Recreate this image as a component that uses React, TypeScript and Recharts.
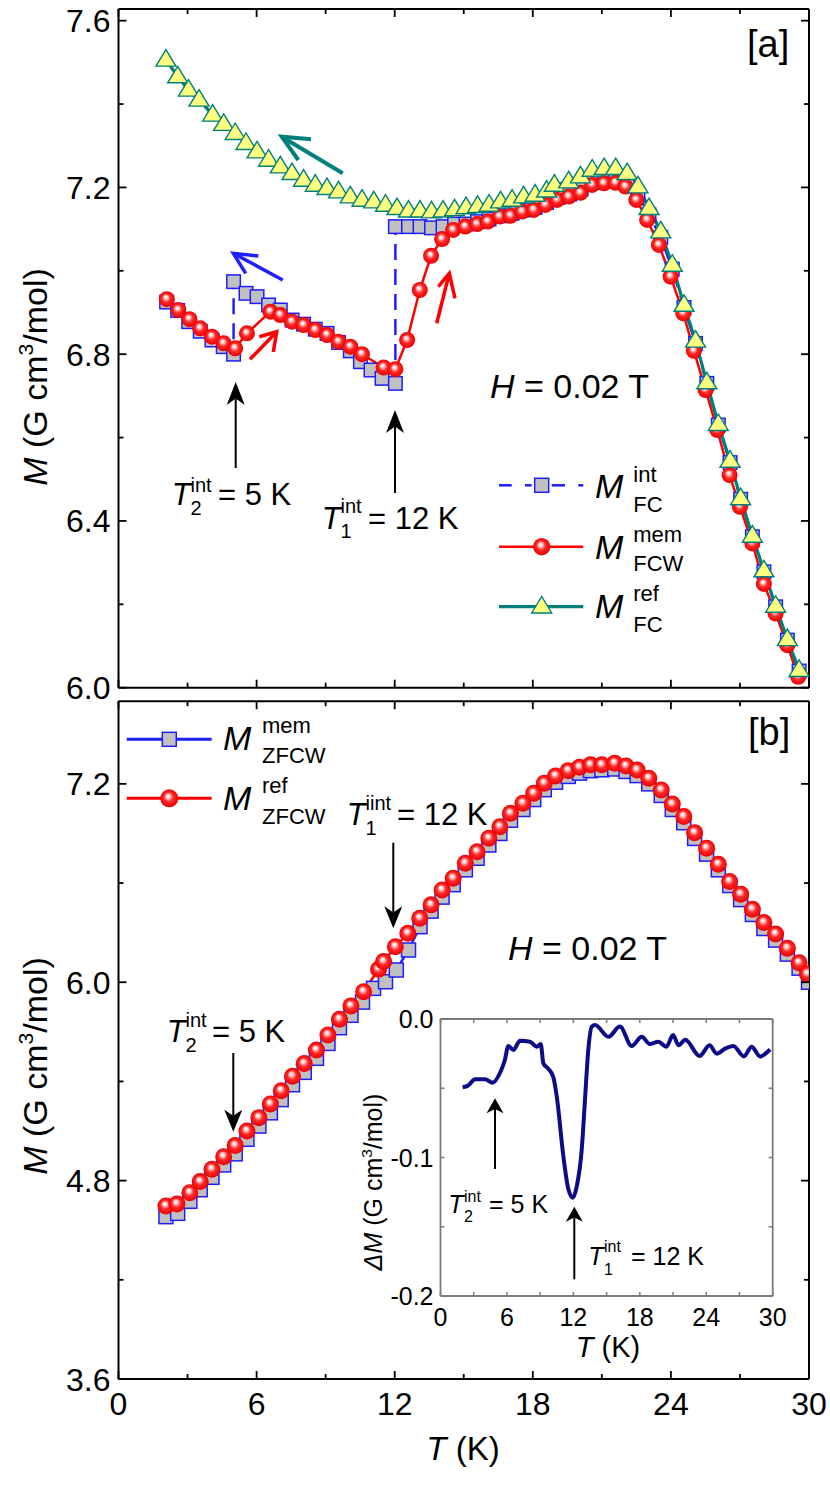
import React from 'react';
import { LineChart, Line, XAxis, YAxis } from 'recharts';

const FONT = "'Liberation Sans', Arial, Helvetica, sans-serif";

// ---------------- Panel (a) ----------------
const aRefT = [2.06, 2.57, 3.04, 3.5, 4.09, 4.57, 5.07, 5.54, 6.02, 6.52, 7.03, 7.54, 8.04, 8.55, 9.06, 9.56, 10.07, 10.58, 11.09, 11.6, 12.1, 12.6, 13.1, 13.6, 14.1, 14.6, 15.1, 15.6, 16.1, 16.6, 17.1, 17.6, 18.1, 18.6, 18.94, 19.56, 20.07, 20.58, 21.1, 21.6, 22.1, 22.57, 23.05, 23.56, 24.06, 24.57, 25.07, 25.56, 26.06, 26.57, 27.03, 27.54, 28.04, 28.55, 29.06, 29.57];
const aRefM = [7.506, 7.466, 7.434, 7.41, 7.374, 7.352, 7.33, 7.306, 7.286, 7.266, 7.25, 7.234, 7.218, 7.206, 7.198, 7.19, 7.178, 7.17, 7.166, 7.158, 7.15, 7.144, 7.144, 7.142, 7.144, 7.147, 7.152, 7.155, 7.158, 7.166, 7.17, 7.178, 7.182, 7.192, 7.206, 7.214, 7.226, 7.242, 7.246, 7.246, 7.234, 7.202, 7.15, 7.094, 7.014, 6.918, 6.832, 6.732, 6.632, 6.544, 6.454, 6.364, 6.281, 6.196, 6.116, 6.042];

const aMemT = [2.1, 2.6, 3.08, 3.55, 4.06, 4.57, 5.07, 5.58, 6.6, 7.03, 7.54, 8.04, 8.55, 9.06, 9.56, 10.07, 10.58, 11.52, 12.03, 12.54, 13.09, 13.58, 14.06, 14.54, 15.07, 15.58, 16.04, 16.56, 17.03, 17.54, 18.04, 18.55, 19.06, 19.56, 20.07, 20.58, 21.09, 21.6, 22.03, 22.5, 22.97, 23.48, 23.99, 24.54, 25.0, 25.51, 26.02, 26.55, 27.0, 27.54, 28.04, 28.55, 29.06, 29.53];
const aMemM = [6.932, 6.906, 6.884, 6.862, 6.842, 6.826, 6.814, 6.85, 6.902, 6.894, 6.878, 6.87, 6.858, 6.846, 6.83, 6.818, 6.8, 6.768, 6.764, 6.834, 6.954, 7.036, 7.076, 7.098, 7.106, 7.112, 7.118, 7.13, 7.132, 7.142, 7.146, 7.158, 7.17, 7.178, 7.187, 7.206, 7.21, 7.211, 7.202, 7.17, 7.122, 7.062, 6.986, 6.898, 6.808, 6.714, 6.618, 6.51, 6.434, 6.346, 6.249, 6.178, 6.102, 6.026];

const aIntT = [2.09, 2.57, 3.05, 3.55, 4.06, 4.55, 5.0, 5.0, 5.54, 6.02, 6.52, 7.03, 7.54, 8.04, 8.55, 9.06, 9.56, 10.07, 10.51, 10.97, 11.45, 12.03, 12.03, 12.6, 13.1, 13.6, 14.1, 14.6, 15.1, 15.6, 16.1, 16.6, 17.1, 17.6, 18.1, 18.6, 19.1, 19.6, 20.1, 20.6, 21.1, 21.6, 22.1, 22.57, 23.05, 23.56, 24.06, 24.57, 25.07, 25.56, 26.06, 26.57, 27.03, 27.54, 28.04, 28.55, 29.06, 29.57];
const aIntM = [6.925, 6.905, 6.878, 6.855, 6.834, 6.818, 6.8, 6.974, 6.946, 6.938, 6.918, 6.906, 6.882, 6.872, 6.86, 6.85, 6.828, 6.808, 6.782, 6.762, 6.742, 6.73, 7.106, 7.106, 7.106, 7.103, 7.106, 7.112, 7.112, 7.118, 7.124, 7.132, 7.138, 7.146, 7.152, 7.164, 7.176, 7.184, 7.196, 7.212, 7.218, 7.22, 7.212, 7.182, 7.134, 7.08, 7.004, 6.912, 6.826, 6.73, 6.63, 6.54, 6.452, 6.362, 6.278, 6.194, 6.114, 6.04];

// ---------------- Panel (b) ----------------
const bRefT = [2.06, 2.54, 3.1, 3.55, 4.06, 4.57, 5.07, 5.58, 6.1, 6.6, 7.07, 7.56, 8.07, 8.6, 9.1, 9.6, 10.1, 10.65, 11.3, 11.52, 12.03, 12.57, 13.09, 13.58, 14.06, 14.54, 15.07, 15.58, 16.09, 16.57, 17.03, 17.57, 18.04, 18.5, 18.99, 19.54, 20.03, 20.51, 21.0, 21.56, 22.05, 22.53, 23.04, 23.58, 24.06, 24.56, 25.03, 25.55, 26.06, 26.55, 27.03, 27.54, 28.04, 28.55, 29.06, 29.57, 29.93];
const bRefM = [4.647, 4.659, 4.727, 4.794, 4.869, 4.945, 5.012, 5.1, 5.181, 5.264, 5.344, 5.432, 5.508, 5.59, 5.681, 5.776, 5.857, 5.943, 6.079, 6.125, 6.215, 6.296, 6.387, 6.468, 6.558, 6.629, 6.72, 6.79, 6.871, 6.941, 7.022, 7.083, 7.143, 7.204, 7.248, 7.28, 7.3, 7.315, 7.315, 7.325, 7.308, 7.284, 7.234, 7.163, 7.078, 7.002, 6.905, 6.811, 6.714, 6.61, 6.533, 6.442, 6.361, 6.292, 6.206, 6.118, 6.05];

const bMemT = [2.06, 2.57, 3.1, 3.55, 4.06, 4.57, 5.07, 5.58, 6.1, 6.6, 7.07, 7.56, 8.07, 8.6, 9.1, 9.6, 10.1, 10.6, 11.08, 11.6, 12.07, 12.6, 13.1, 13.58, 14.06, 14.54, 15.07, 15.58, 16.09, 16.57, 17.03, 17.57, 18.04, 18.5, 18.99, 19.54, 20.03, 20.51, 21.0, 21.56, 22.05, 22.53, 23.04, 23.58, 24.06, 24.56, 25.03, 25.55, 26.06, 26.56, 27.03, 27.54, 28.04, 28.55, 29.06, 29.57, 29.98];
const bMemM = [4.582, 4.602, 4.675, 4.745, 4.82, 4.895, 4.962, 5.05, 5.13, 5.21, 5.29, 5.38, 5.455, 5.54, 5.63, 5.725, 5.8, 5.88, 5.963, 6.003, 6.074, 6.195, 6.336, 6.43, 6.515, 6.59, 6.68, 6.75, 6.83, 6.9, 6.98, 7.045, 7.105, 7.165, 7.21, 7.245, 7.265, 7.28, 7.285, 7.29, 7.275, 7.25, 7.2, 7.13, 7.045, 6.965, 6.87, 6.775, 6.68, 6.585, 6.5, 6.41, 6.325, 6.255, 6.17, 6.085, 6.0];

// ---------------- Inset (ΔM) ----------------
const dT = [2.0, 2.5, 3.12, 4.02, 4.71, 5.37, 5.8, 6.13, 6.58, 7.18, 8.08, 8.69, 9.05, 9.29, 9.74, 10.19, 10.5, 11.1, 11.55, 11.94, 12.3, 12.75, 13.05, 13.35, 13.66, 13.96, 15.16, 16.2, 17.27, 18.17, 18.9, 19.67, 20.4, 21.0, 21.5, 22.1, 23.4, 24.3, 24.95, 25.7, 26.45, 27.4, 28.1, 28.86, 29.76];
const dM = [-0.0493, -0.048, -0.0435, -0.0435, -0.046, -0.039, -0.03, -0.0195, -0.0224, -0.0157, -0.0164, -0.02, -0.018, -0.032, -0.036, -0.042, -0.056, -0.0994, -0.123, -0.129, -0.121, -0.0946, -0.058, -0.022, -0.0055, -0.0043, -0.0128, -0.0055, -0.0195, -0.0128, -0.018, -0.0164, -0.02, -0.0116, -0.019, -0.015, -0.0267, -0.019, -0.025, -0.0214, -0.0195, -0.027, -0.02, -0.027, -0.022];

// ---------------- Ticks ----------------
const xTicks = [0, 3, 6, 9, 12, 15, 18, 21, 24, 27, 30];
const xMajor = [0, 6, 12, 18, 24, 30];
const aYTicks = [6.0, 6.2, 6.4, 6.6, 6.8, 7.0, 7.2, 7.4, 7.6];
const aYMajor = [6.0, 6.4, 6.8, 7.2, 7.6];
const bYTicks = [3.6, 4.2, 4.8, 5.4, 6.0, 6.6, 7.2];
const bYMajor = [3.6, 4.8, 6.0, 7.2];
const iYTicks = [-0.2, -0.15, -0.1, -0.05, 0];
const iYMajor = [-0.2, -0.1, 0];

const zip = (t: number[], m: number[]) => t.map((T, i) => ({ T, M: m[i] }));
const aRef = zip(aRefT, aRefM);
const aMem = zip(aMemT, aMemM);
const aInt = zip(aIntT, aIntM);
const bRef = zip(bRefT, bRefM);
const bMem = zip(bMemT, bMemM);
const dData = zip(dT, dM);

type TickCfg = {
  side: 'left' | 'right' | 'top' | 'bottom';
  majors: number[];
  major: number;
  minor: number;
  stroke: string;
  sw: number;
  label?: (v: number) => string;
  fs?: number;
  gap?: number;
};

const mkTick = (c: TickCfg) => (p: any) => {
  const x = Number(p.x);
  const y = Number(p.y);
  const v = Number(p.payload ? p.payload.value : 0);
  const isMajor = c.majors.some((m) => Math.abs(m - v) < 1e-6);
  const len = isMajor ? c.major : c.minor;
  const dx = c.side === 'left' ? len : c.side === 'right' ? -len : 0;
  const dy = c.side === 'bottom' ? -len : c.side === 'top' ? len : 0;
  let lab: any = null;
  if (c.label && isMajor) {
    const fs = c.fs || 30;
    if (c.side === 'left') {
      lab = (
        <text x={x - (c.gap || 8)} y={y + fs * 0.36} textAnchor="end" fontSize={fs} fontFamily={FONT} fill="#000">
          {c.label(v)}
        </text>
      );
    } else if (c.side === 'bottom') {
      lab = (
        <text x={x} y={y + (c.gap || 30)} textAnchor="middle" fontSize={fs} fontFamily={FONT} fill="#000">
          {c.label(v)}
        </text>
      );
    }
  }
  return (
    <g key={`tk-${c.side}-${p.index}`}>
      <line x1={x} y1={y} x2={x + dx} y2={y + dy} stroke={c.stroke} strokeWidth={c.sw} />
      {lab}
    </g>
  );
};

const ball = (r: number) => (p: any) =>
  p.cx == null || p.cy == null ? (
    <g key={`b${p.index}`} />
  ) : (
    <circle key={`b${p.index}`} cx={p.cx} cy={p.cy} r={r} fill="url(#redBall)" />
  );

const square = (s: number) => (p: any) =>
  p.cx == null || p.cy == null ? (
    <g key={`s${p.index}`} />
  ) : (
    <rect key={`s${p.index}`} x={p.cx - s / 2} y={p.cy - s / 2} width={s} height={s} fill="#c0c0c0" stroke="#1e1eff" strokeWidth={1.5} />
  );

const tri = (w: number, h: number) => (p: any) =>
  p.cx == null || p.cy == null ? (
    <g key={`t${p.index}`} />
  ) : (
    <polygon
      key={`t${p.index}`}
      points={`${p.cx},${p.cy - h * 0.62} ${p.cx - w / 2},${p.cy + h * 0.38} ${p.cx + w / 2},${p.cy + h * 0.38}`}
      fill="#ffff80"
      stroke="#00807d"
      strokeWidth={1.4}
    />
  );

const AX = { stroke: '#000', strokeWidth: 2 };
const GX = { stroke: '#7a7a7a', strokeWidth: 1.8 };

function frameAxes(yDomain: number[], yTicks: number[], yMajor: number[], yWidth: number, showX: boolean, yFmt: (v: number) => string) {
  return [
    <XAxis
      key="xb"
      dataKey="T"
      type="number"
      domain={[0, 30]}
      ticks={xTicks}
      interval={0}
      allowDataOverflow
      height={1}
      tickSize={0}
      tickMargin={0}
      tickLine={false}
      axisLine={AX}
      tick={mkTick({ side: 'bottom', majors: xMajor, major: 8, minor: 5, stroke: '#000', sw: 1.8, label: showX ? (v) => String(v) : undefined, fs: 32, gap: 36 })}
    />,
    <XAxis
      key="xt"
      xAxisId="top"
      orientation="top"
      dataKey="T"
      type="number"
      domain={[0, 30]}
      ticks={xTicks}
      interval={0}
      allowDataOverflow
      height={1}
      tickSize={0}
      tickMargin={0}
      tickLine={false}
      axisLine={AX}
      tick={mkTick({ side: 'top', majors: xMajor, major: 8, minor: 5, stroke: '#000', sw: 1.8 })}
    />,
    <YAxis
      key="yl"
      type="number"
      domain={yDomain}
      ticks={yTicks}
      interval={0}
      allowDataOverflow
      width={yWidth}
      tickSize={0}
      tickMargin={0}
      tickLine={false}
      axisLine={AX}
      tick={mkTick({ side: 'left', majors: yMajor, major: 8, minor: 5, stroke: '#000', sw: 1.8, label: yFmt, fs: 32, gap: 8 })}
    />,
    <YAxis
      key="yr"
      yAxisId="right"
      orientation="right"
      type="number"
      domain={yDomain}
      ticks={yTicks}
      interval={0}
      allowDataOverflow
      width={1}
      tickSize={0}
      tickMargin={0}
      tickLine={false}
      axisLine={AX}
      tick={mkTick({ side: 'right', majors: yMajor, major: 8, minor: 5, stroke: '#000', sw: 1.8 })}
    />,
    <Line
      key="dummy"
      xAxisId="top"
      yAxisId="right"
      data={[
        { T: 0, M: yDomain[0] },
        { T: 30, M: yDomain[1] },
      ]}
      dataKey="M"
      stroke="none"
      dot={false}
      activeDot={false}
      isAnimationActive={false}
    />,
  ];
}

function TLab(props: { x: number; y: number; fs: number; sfs: number; sup: string; sub: string; sx: number; supY: number; subY: number; rest: string; rx: number }) {
  const { x, y, fs, sfs, sup, sub, sx, supY, subY, rest, rx } = props;
  return (
    <g fontFamily={FONT} fill="#000">
      <text x={x} y={y} fontSize={fs} fontStyle="italic">T</text>
      <text x={sx} y={supY} fontSize={sfs}>{sup}</text>
      <text x={sx} y={subY} fontSize={sfs}>{sub}</text>
      <text x={rx} y={y} fontSize={fs}>{rest}</text>
    </g>
  );
}

function Arrow(props: { x1: number; y1: number; x2: number; y2: number; hw: number; hl: number; sw: number }) {
  const { x1, y1, x2, y2, hw, hl, sw } = props;
  const dx = x2 - x1;
  const dy = y2 - y1;
  const L = Math.hypot(dx, dy);
  const ux = dx / L;
  const uy = dy / L;
  const px = -uy;
  const py = ux;
  const bx = x2 - ux * hl;
  const by = y2 - uy * hl;
  const nx = x2 - ux * hl * 0.72;
  const ny = y2 - uy * hl * 0.72;
  return (
    <g>
      <line x1={x1} y1={y1} x2={nx} y2={ny} stroke="#000" strokeWidth={sw} />
      <polygon points={`${x2},${y2} ${bx + px * hw},${by + py * hw} ${nx},${ny} ${bx - px * hw},${by - py * hw}`} fill="#000" />
    </g>
  );
}

function OpenArrow(props: { tail: number[]; tip: number[]; w1: number[]; w2: number[]; color: string; sw: number }) {
  const { tail, tip, w1, w2, color, sw } = props;
  return (
    <g stroke={color} strokeWidth={sw} fill="none" strokeLinejoin="miter">
      <line x1={tail[0]} y1={tail[1]} x2={tip[0]} y2={tip[1]} />
      <polyline points={`${w1[0]},${w1[1]} ${tip[0]},${tip[1]} ${w2[0]},${w2[1]}`} />
    </g>
  );
}

function LegendM(props: { x: number; y: number; sx: number; sup: string; supY: number; sub: string; subY: number }) {
  const { x, y, sx, sup, supY, sub, subY } = props;
  return (
    <g fontFamily={FONT} fill="#000">
      <text x={x} y={y} fontSize={34} fontStyle="italic">M</text>
      <text x={sx} y={supY} fontSize={22}>{sup}</text>
      <text x={sx} y={subY} fontSize={22}>{sub}</text>
    </g>
  );
}

function YTitle(props: { x: number; y: number; fs: number; delta?: boolean }) {
  const { x, y, fs, delta } = props;
  return (
    <text transform={`translate(${x},${y}) rotate(-90)`} textAnchor="middle" fontSize={fs} fontFamily={FONT} fill="#000">
      <tspan fontStyle="italic">{delta ? 'ΔM' : 'M'}</tspan>
      <tspan> (G cm</tspan>
      <tspan fontSize={fs * 0.62} dy={-fs * 0.42}>3</tspan>
      <tspan dy={fs * 0.42}>/mol)</tspan>
    </text>
  );
}

export default function App() {
  return (
    <div style={{ position: 'absolute', left: 0, top: 0, width: 830, height: 1495, background: '#fff', fontFamily: FONT }}>
      {/* Panel (a) */}
      <div style={{ position: 'absolute', left: 0, top: 0 }}>
        <LineChart width={830} height={712} margin={{ top: 8, right: 20, bottom: 23.3, left: 0 }}>
          {frameAxes([6.0, 7.628], aYTicks, aYMajor, 118.5, false, (v) => v.toFixed(1))}
          <Line data={aInt} dataKey="M" type="linear" stroke="#1e1eff" strokeWidth={2.5} strokeDasharray="16 9" dot={square(13.5)} activeDot={false} isAnimationActive={false} />
          <Line data={aMem} dataKey="M" type="linear" stroke="#ff0000" strokeWidth={2.5} dot={ball(8)} activeDot={false} isAnimationActive={false} />
          <Line data={aRef} dataKey="M" type="linear" stroke="#00807d" strokeWidth={3.2} dot={tri(20, 16.5)} activeDot={false} isAnimationActive={false} />
        </LineChart>
      </div>

      {/* Panel (b) */}
      <div style={{ position: 'absolute', left: 0, top: 690 }}>
        <LineChart width={830} height={805} margin={{ top: 10.2, right: 20, bottom: 115, left: 0 }}>
          {frameAxes([3.6, 7.7], bYTicks, bYMajor, 118.5, true, (v) => v.toFixed(1))}
          <Line data={bMem} dataKey="M" type="linear" stroke="#1e1eff" strokeWidth={2.5} dot={square(14)} activeDot={false} isAnimationActive={false} />
          <Line data={bRef} dataKey="M" type="linear" stroke="#ff0000" strokeWidth={2.5} dot={ball(8.5)} activeDot={false} isAnimationActive={false} />
        </LineChart>
      </div>

      {/* Inset */}
      <div style={{ position: 'absolute', left: 340, top: 990 }}>
        <LineChart width={460} height={400} margin={{ top: 28, right: 26.3, bottom: 93, left: 0 }}>
          <XAxis
            dataKey="T"
            type="number"
            domain={[0, 30]}
            ticks={xTicks}
            interval={0}
            allowDataOverflow
            height={1}
            tickSize={0}
            tickMargin={0}
            tickLine={false}
            axisLine={GX}
            tick={mkTick({ side: 'bottom', majors: xTicks, major: 4, minor: 4, stroke: '#7a7a7a', sw: 1.5, label: (v) => (xMajor.includes(v) ? String(v) : ''), fs: 25, gap: 30 })}
          />
          <XAxis
            xAxisId="top"
            orientation="top"
            dataKey="T"
            type="number"
            domain={[0, 30]}
            ticks={xTicks}
            interval={0}
            allowDataOverflow
            height={1}
            tickSize={0}
            tickMargin={0}
            tickLine={false}
            axisLine={GX}
            tick={mkTick({ side: 'top', majors: xTicks, major: 4, minor: 4, stroke: '#7a7a7a', sw: 1.5 })}
          />
          <YAxis
            type="number"
            domain={[-0.2, 0]}
            ticks={iYTicks}
            interval={0}
            allowDataOverflow
            width={100.5}
            tickSize={0}
            tickMargin={0}
            tickLine={false}
            axisLine={GX}
            tick={mkTick({ side: 'left', majors: iYTicks, major: 4, minor: 4, stroke: '#7a7a7a', sw: 1.5, label: (v) => (iYMajor.some((m) => Math.abs(m - v) < 1e-6) ? (Math.abs(v) < 1e-9 ? '0.0' : v.toFixed(1)) : ''), fs: 25, gap: 7 })}
          />
          <YAxis
            yAxisId="right"
            orientation="right"
            type="number"
            domain={[-0.2, 0]}
            ticks={iYTicks}
            interval={0}
            allowDataOverflow
            width={1}
            tickSize={0}
            tickMargin={0}
            tickLine={false}
            axisLine={GX}
            tick={mkTick({ side: 'right', majors: iYTicks, major: 4, minor: 4, stroke: '#7a7a7a', sw: 1.5 })}
          />
          <Line xAxisId="top" yAxisId="right" data={[{ T: 0, M: -0.2 }, { T: 30, M: 0 }]} dataKey="M" stroke="none" dot={false} activeDot={false} isAnimationActive={false} />
          <Line data={dData} dataKey="M" type="monotone" stroke="#0c0c88" strokeWidth={4} dot={false} activeDot={false} isAnimationActive={false} />
        </LineChart>
      </div>

      {/* Overlay annotations */}
      <svg width={830} height={1495} style={{ position: 'absolute', left: 0, top: 0, pointerEvents: 'none' }}>
        <defs>
          <radialGradient id="redBall" cx="0.5" cy="0.5" r="0.5" fx="0.42" fy="0.36">
            <stop offset="0" stopColor="#ffffff" />
            <stop offset="0.2" stopColor="#ffd8d8" />
            <stop offset="0.52" stopColor="#ff2a2a" />
            <stop offset="1" stopColor="#ea0000" />
          </radialGradient>
        </defs>

        {/* axis titles */}
        <YTitle x={47} y={377} fs={34} />
        <YTitle x={47} y={1066} fs={34} />
        <YTitle x={382} y={1182} fs={25} delta />
        <text x={463} y={1460} textAnchor="middle" fontSize={33} fontFamily={FONT} fill="#000">
          <tspan fontStyle="italic">T</tspan> (K)
        </text>
        <text x={608} y={1357} textAnchor="middle" fontSize={29} fontFamily={FONT} fill="#000">
          <tspan fontStyle="italic">T</tspan> (K)
        </text>

        {/* panel labels */}
        <text x={747} y={57} fontSize={38} fontFamily={FONT} fill="#000">[a]</text>
        <text x={748} y={745} fontSize={38} fontFamily={FONT} fill="#000">[b]</text>

        {/* field labels */}
        <text x={490} y={398} fontSize={34} fontFamily={FONT} fill="#000">
          <tspan fontStyle="italic">H</tspan> = 0.02 T
        </text>
        <text x={508} y={960} fontSize={34} fontFamily={FONT} fill="#000">
          <tspan fontStyle="italic">H</tspan> = 0.02 T
        </text>

        {/* panel (a) annotations */}
        <Arrow x1={235.7} y1={468} x2={235.7} y2={382} hw={9} hl={23} sw={2} />
        <Arrow x1={395} y1={493} x2={395} y2={410} hw={9} hl={23} sw={2} />
        <TLab x={171.7} y={505} fs={31} sfs={20} sup="int" sub="2" sx={190.5} supY={491.7} subY={515} rest="= 5 K" rx={218} />
        <TLab x={321.7} y={529} fs={31} sfs={20} sup="int" sub="1" sx={340.5} supY={513} subY={538} rest="= 12 K" rx={368} />

        <OpenArrow tail={[342.7, 173.3]} tip={[281.7, 136.7]} w1={[311, 139.3]} w2={[298.3, 160]} color="#00807d" sw={4} />
        <OpenArrow tail={[282.7, 280]} tip={[233.3, 253.3]} w1={[258.3, 256]} w2={[245.7, 273.3]} color="#1e1eff" sw={3.5} />
        <OpenArrow tail={[250, 359.3]} tip={[276.7, 331.7]} w1={[259.3, 336.7]} w2={[273.3, 352]} color="#ff0000" sw={3.5} />
        <OpenArrow tail={[436.7, 323.3]} tip={[449.3, 273.3]} w1={[438.3, 286.7]} w2={[455, 298.3]} color="#ff0000" sw={3.5} />

        {/* legend (a) */}
        <g stroke="#1e1eff" strokeWidth={2.5}>
          <line x1={499} y1={485.3} x2={511.7} y2={485.3} />
          <line x1={525} y1={485.3} x2={531.7} y2={485.3} />
          <line x1={551.7} y1={485.3} x2={565} y2={485.3} />
          <line x1={578.3} y1={485.3} x2={583.3} y2={485.3} />
        </g>
        <rect x={541.7 - 7} y={485.3 - 7} width={14} height={14} fill="#c0c0c0" stroke="#1e1eff" strokeWidth={1.5} />
        <LegendM x={595} y={498} sx={633.3} sup="int" supY={481.7} sub="FC" subY={511.7} />

        <line x1={499} y1={546.7} x2={583.3} y2={546.7} stroke="#ff0000" strokeWidth={2.5} />
        <circle cx={541.7} cy={546.7} r={8.7} fill="url(#redBall)" />
        <LegendM x={595} y={559.3} sx={633.3} sup="mem" supY={541.7} sub="FCW" subY={570.7} />

        <line x1={499} y1={606.7} x2={583.3} y2={606.7} stroke="#00807d" strokeWidth={3.2} />
        <polygon points={`541.7,${606.7 - 10.2} ${541.7 - 10},${606.7 + 6.3} ${541.7 + 10},${606.7 + 6.3}`} fill="#ffff80" stroke="#00807d" strokeWidth={1.4} />
        <LegendM x={595} y={618.3} sx={633.3} sup="ref" supY={600.7} sub="FC" subY={631.7} />

        {/* panel (b) annotations */}
        <Arrow x1={393.3} y1={842.7} x2={393.3} y2={928.3} hw={9} hl={22} sw={2} />
        <Arrow x1={233.3} y1={1053} x2={233.3} y2={1131.7} hw={9} hl={22} sw={2} />
        <TLab x={346.7} y={825} fs={31} sfs={20} sup="iint" sub="1" sx={365.5} supY={810} subY={835} rest="= 12 K" rx={397} />
        <TLab x={166.7} y={1041.7} fs={31} sfs={20} sup="int" sub="2" sx={185.5} supY={1026.7} subY={1051.7} rest="= 5 K" rx={212} />

        {/* legend (b) */}
        <line x1={126.7} y1={739.3} x2={211.7} y2={739.3} stroke="#1e1eff" strokeWidth={3} />
        <rect x={169.3 - 7} y={739.3 - 7} width={14} height={14} fill="#c0c0c0" stroke="#1e1eff" strokeWidth={1.5} />
        <LegendM x={223} y={750} sx={262} sup="mem" supY={733.3} sub="ZFCW" subY={762.7} />
        <line x1={126.7} y1={798.3} x2={211.7} y2={798.3} stroke="#ff0000" strokeWidth={3} />
        <circle cx={169.3} cy={798.3} r={9} fill="url(#redBall)" />
        <LegendM x={223} y={810} sx={262} sup="ref" supY={793.3} sub="ZFCW" subY={824} />

        {/* inset annotations */}
        <Arrow x1={495} y1={1169} x2={495} y2={1098.3} hw={8.5} hl={15} sw={2} />
        <Arrow x1={574.3} y1={1279.3} x2={574.3} y2={1206.7} hw={8.5} hl={15} sw={2} />
        <TLab x={448.3} y={1213.3} fs={25} sfs={16} sup="int" sub="2" sx={464} supY={1201.7} subY={1222} rest="= 5 K" rx={489} />
        <TLab x={588.3} y={1265} fs={25} sfs={16} sup="int" sub="1" sx={604} supY={1251.7} subY={1275} rest="= 12 K" rx={631} />
      </svg>
    </div>
  );
}
